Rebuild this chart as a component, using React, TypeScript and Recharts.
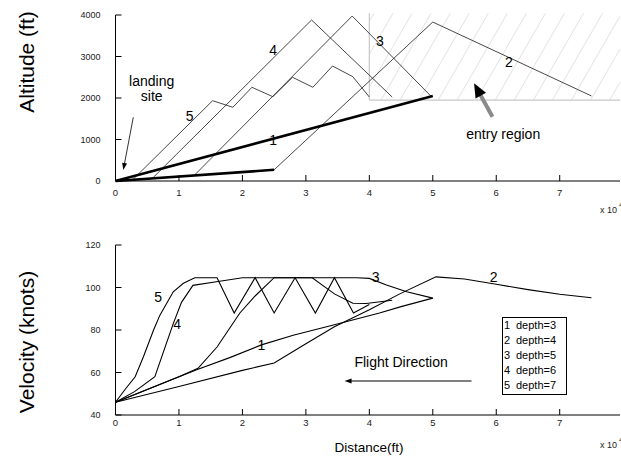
import React from 'react';
import { LineChart, Line, XAxis, YAxis, ReferenceArea, ReferenceLine, ReferenceDot } from 'recharts';

// distance is in units of 10^4 ft
const distTicks = [0, 1, 2, 3, 4, 5, 6, 7];
const altTicks = [0, 1000, 2000, 3000, 4000];
const velTicks = [40, 60, 80, 100, 120];
const depths = [3, 4, 5, 6, 7];

// altitude profiles (ft) per search depth
const alt1 = [{ x: 0, y: 0 }, { x: 5, y: 2050 }];
const alt2 = [{ x: 0, y: 0 }, { x: 2.5, y: 270 }, { x: 5, y: 3830 }, { x: 7.5, y: 2050 }];
const alt3 = [{ x: 0, y: 0 }, { x: 1.24, y: 134 }, { x: 3.73, y: 3975 }, { x: 4.98, y: 2030 }];
const alt4 = [{ x: 0, y: 0 }, { x: 0.58, y: 63 }, { x: 3.09, y: 3880 }, { x: 4.36, y: 2024 }];
const alt5 = [
  { x: 0, y: 0 }, { x: 0.27, y: 29 }, { x: 1.53, y: 1935 }, { x: 1.85, y: 1776 },
  { x: 2.15, y: 2258 }, { x: 2.48, y: 2031 }, { x: 2.79, y: 2499 }, { x: 3.11, y: 2258 },
  { x: 3.42, y: 2771 }, { x: 3.74, y: 2513 }, { x: 4.0, y: 2024 },
];

// velocity profiles (knots)
const vel1 = [
  { x: 0, y: 46 }, { x: 0.5, y: 52 }, { x: 1.0, y: 58 }, { x: 1.3, y: 61.5 }, { x: 1.8, y: 67 },
  { x: 2.3, y: 73 }, { x: 2.8, y: 77.5 }, { x: 3.45, y: 82.5 }, { x: 4.16, y: 88 }, { x: 4.5, y: 91 },
  { x: 5, y: 95 },
];
const vel2 = [
  { x: 0, y: 46 }, { x: 1, y: 53.4 }, { x: 2, y: 61 }, { x: 2.5, y: 64.5 }, { x: 3.0, y: 73.5 },
  { x: 3.45, y: 81.5 }, { x: 4.0, y: 89.5 }, { x: 4.48, y: 97 }, { x: 5.05, y: 105 }, { x: 5.5, y: 104 },
  { x: 6, y: 101.5 }, { x: 6.5, y: 99 }, { x: 7, y: 96.8 }, { x: 7.5, y: 95.2 },
];
const vel3 = [
  { x: 0, y: 46 }, { x: 0.5, y: 52 }, { x: 1.0, y: 58 }, { x: 1.3, y: 62 }, { x: 1.6, y: 72 },
  { x: 1.96, y: 88 }, { x: 2.2, y: 96 }, { x: 2.5, y: 104.6 }, { x: 3.8, y: 104.6 }, { x: 4.0, y: 104.3 },
  { x: 4.27, y: 101.2 }, { x: 4.59, y: 98 }, { x: 5, y: 95 },
];
const vel4 = [
  { x: 0, y: 46 }, { x: 0.3, y: 51 }, { x: 0.62, y: 58 }, { x: 0.91, y: 83 }, { x: 1.04, y: 93 },
  { x: 1.22, y: 101 }, { x: 1.59, y: 102.7 }, { x: 2.0, y: 104.6 }, { x: 3.1, y: 104.6 }, { x: 3.45, y: 97 },
  { x: 3.74, y: 92.6 }, { x: 3.95, y: 92.5 }, { x: 4.36, y: 94 },
];
const vel5 = [
  { x: 0, y: 46 }, { x: 0.15, y: 52 }, { x: 0.31, y: 58 }, { x: 0.44, y: 67.4 }, { x: 0.6, y: 80 },
  { x: 0.7, y: 87 }, { x: 0.91, y: 98 }, { x: 1.07, y: 102 }, { x: 1.25, y: 104.6 }, { x: 1.6, y: 104.6 },
  { x: 1.87, y: 88 }, { x: 2.2, y: 104.6 }, { x: 2.5, y: 88 }, { x: 2.83, y: 104.6 }, { x: 3.15, y: 88 },
  { x: 3.45, y: 104.6 }, { x: 3.75, y: 88 }, { x: 4.0, y: 92 },
];

// tags written next to the curves
const altTags = [
  { x: 2.485, y: 3157, t: '4' }, { x: 4.165, y: 3381, t: '3' }, { x: 6.2, y: 2875, t: '2' },
  { x: 1.17, y: 1566, t: '5' }, { x: 2.485, y: 988, t: '1' },
];
const velTags = [
  { x: 0.674, y: 95.7, t: '5' }, { x: 0.973, y: 82.8, t: '4' }, { x: 2.3, y: 72.9, t: '1' },
  { x: 4.1, y: 105.1, t: '3' }, { x: 5.96, y: 105.1, t: '2' },
];

const FONT = '"Liberation Sans", Arial, Helvetica, sans-serif';
const X_MAX = 7.95;

const makeXTick = (margin: number) => (p: any) => {
  const axisY = p.y - margin;
  return (
    <g>
      <line x1={p.x} x2={p.x} y1={axisY} y2={axisY - 6} stroke="#000" strokeWidth={1} />
      <text x={p.x} y={p.y} dy="0.71em" textAnchor="middle" fontSize={9.5} fill="#222" fontFamily={FONT}>
        {p.payload.value}
      </text>
    </g>
  );
};

const makeYTick = (margin: number) => (p: any) => {
  const axisX = p.x + margin;
  return (
    <g>
      <line x1={axisX} x2={axisX + 6} y1={p.y} y2={p.y} stroke="#000" strokeWidth={1} />
      <text x={p.x} y={p.y} dy="0.35em" textAnchor="end" fontSize={9} fill="#222" fontFamily={FONT}>
        {p.payload.value}
      </text>
    </g>
  );
};

const Tag = (text: string, size = 14) => (p: any) => (
  <text x={p.cx} y={p.cy} dy="0.35em" textAnchor="middle" fontSize={size} fill="#000" fontFamily={FONT}>
    {text}
  </text>
);

// arrow drawn along a ReferenceLine segment, head at the second point
const Arrow = (shaft: string, width: number, headLen: number, headW: number) => (p: any) => {
  const { x1, y1, x2, y2 } = p;
  const dx = x2 - x1;
  const dy = y2 - y1;
  const len = Math.sqrt(dx * dx + dy * dy) || 1;
  const ux = dx / len;
  const uy = dy / len;
  const bx = x2 - ux * headLen;
  const by = y2 - uy * headLen;
  const head = `${x2},${y2} ${bx - uy * headW / 2},${by + ux * headW / 2} ${bx + uy * headW / 2},${by - ux * headW / 2}`;
  return (
    <g>
      <line x1={x1} y1={y1} x2={bx + ux * 1} y2={by + uy * 1} stroke={shaft} strokeWidth={width} />
      <polygon points={head} fill="#000" />
    </g>
  );
};

const thin = { type: 'linear' as const, dataKey: 'y', dot: false, isAnimationActive: false };

export default function App() {
  return (
    <div style={{ position: 'absolute', left: 0, top: 0, width: 621, height: 461, background: '#fff', fontFamily: FONT }}>
      <div style={{ position: 'absolute', left: 0, top: 0 }}>
        <LineChart width={621} height={215} margin={{ top: 15, right: 1, bottom: 9, left: 75.5 }}>
          <defs>
            <pattern id="hatch" patternUnits="userSpaceOnUse" width={16.5} height={16.5} patternTransform="rotate(30)">
              <line x1={0} y1={0} x2={0} y2={16.5} stroke="#c4c4c4" strokeWidth={0.9} />
            </pattern>
          </defs>
          <XAxis
            type="number" dataKey="x" domain={[0, X_MAX]} ticks={distTicks} allowDataOverflow
            height={25} tickSize={0} tickMargin={8} tick={makeXTick(8)}
            axisLine={{ stroke: '#000', strokeWidth: 1 }}
          />
          <YAxis
            type="number" domain={[0, 4000]} ticks={altTicks} width={40}
            tickSize={0} tickMargin={15} tick={makeYTick(15)}
            axisLine={{ stroke: '#000', strokeWidth: 1 }}
          />
          <ReferenceArea x1={4} x2={X_MAX} y1={1950} y2={4040} fill="url(#hatch)" fillOpacity={1} stroke="none" ifOverflow="visible" />
          <ReferenceLine segment={[{ x: 4, y: 1950 }, { x: 4, y: 4040 }]} stroke="#c8c8c8" strokeWidth={1.2} ifOverflow="visible" />
          <ReferenceLine segment={[{ x: 4, y: 1950 }, { x: X_MAX, y: 1950 }]} stroke="#c8c8c8" strokeWidth={1.2} ifOverflow="visible" />

          <Line {...thin} data={alt2} stroke="#333" strokeWidth={0.9} />
          <Line {...thin} data={alt3} stroke="#333" strokeWidth={0.9} />
          <Line {...thin} data={alt4} stroke="#333" strokeWidth={0.9} />
          <Line {...thin} data={alt5} stroke="#333" strokeWidth={0.9} />
          <Line {...thin} data={alt2.slice(0, 2)} stroke="#000" strokeWidth={2.6} />
          <Line {...thin} data={alt1} stroke="#000" strokeWidth={2.6} />

          {altTags.map((t) => (
            <ReferenceDot key={'a' + t.t} x={t.x} y={t.y} r={0} shape={Tag(t.t)} />
          ))}
          <ReferenceDot
            x={0.57} y={2289} r={0}
            shape={(p: any) => (
              <text x={p.cx} y={p.cy} textAnchor="middle" fontSize={14} fill="#000" fontFamily={FONT}>
                <tspan x={p.cx}>landing</tspan>
                <tspan x={p.cx} dy={15}>site</tspan>
              </text>
            )}
          />
          <ReferenceLine segment={[{ x: 0.28, y: 1535 }, { x: 0.123, y: 265 }]} shape={Arrow('#000', 0.8, 7, 5)} />
          <ReferenceLine segment={[{ x: 5.94, y: 1549 }, { x: 5.65, y: 2354 }]} shape={Arrow('#8a8a8a', 4, 14, 12)} />
          <ReferenceDot x={6.11} y={1133} r={0} shape={Tag('entry region')} />
        </LineChart>
      </div>

      <div style={{ position: 'absolute', left: 0, top: 230 }}>
        <LineChart width={621} height={231} margin={{ top: 15, right: 1, bottom: 21, left: 75.5 }}>
          <XAxis
            type="number" dataKey="x" domain={[0, X_MAX]} ticks={distTicks} allowDataOverflow
            height={25} tickSize={0} tickMargin={4.5} tick={makeXTick(4.5)}
            axisLine={{ stroke: '#000', strokeWidth: 1 }}
          />
          <YAxis
            type="number" domain={[40, 120]} ticks={velTicks} width={40}
            tickSize={0} tickMargin={15} tick={makeYTick(15)}
            axisLine={{ stroke: '#000', strokeWidth: 1 }}
          />
          <Line {...thin} data={vel1} stroke="#000" strokeWidth={1.1} />
          <Line {...thin} data={vel2} stroke="#000" strokeWidth={1.1} />
          <Line {...thin} data={vel3} stroke="#000" strokeWidth={1.1} />
          <Line {...thin} data={vel4} stroke="#000" strokeWidth={1.1} />
          <Line {...thin} data={vel5} stroke="#000" strokeWidth={1.1} />

          {velTags.map((t) => (
            <ReferenceDot key={'v' + t.t} x={t.x} y={t.y} r={0} shape={Tag(t.t)} />
          ))}
          <ReferenceDot x={4.5} y={64.9} r={0} shape={Tag('Flight Direction')} />
          <ReferenceLine segment={[{ x: 5.61, y: 56 }, { x: 3.61, y: 56 }]} shape={Arrow('#000', 1.1, 7, 5)} />
        </LineChart>
      </div>

      <svg width={621} height={461} style={{ position: 'absolute', left: 0, top: 0, pointerEvents: 'none' }}>
        <text transform="rotate(-90 34 62)" x={34} y={62} textAnchor="middle" fontSize={21} fill="#000" fontFamily={FONT}>
          Altitude (ft)
        </text>
        <text transform="rotate(-90 34 342)" x={34} y={342} textAnchor="middle" fontSize={21} fill="#000" fontFamily={FONT}>
          Velocity (knots)
        </text>
        <text x={369} y={452} textAnchor="middle" fontSize={13.5} fill="#000" fontFamily={FONT}>
          Distance(ft)
        </text>
        <text x={617} y={213} textAnchor="end" fontSize={9} fill="#222" fontFamily={FONT}>x 10</text>
        <text x={619} y={207} fontSize={6} fill="#222" fontFamily={FONT}>4</text>
        <text x={617} y={448} textAnchor="end" fontSize={9} fill="#222" fontFamily={FONT}>x 10</text>
        <text x={619} y={442} fontSize={6} fill="#222" fontFamily={FONT}>4</text>

        <rect x={502.5} y={317.5} width={64} height={77} fill="#fff" stroke="#000" strokeWidth={1} />
        {depths.map((d, i) => (
          <g key={d}>
            <text x={504} y={328.5 + i * 15} fontSize={11} fill="#000" fontFamily={FONT}>{i + 1}</text>
            <text x={516} y={328.5 + i * 15} fontSize={11} fill="#000" fontFamily={FONT}>{`depth=${d}`}</text>
          </g>
        ))}
      </svg>
    </div>
  );
}
